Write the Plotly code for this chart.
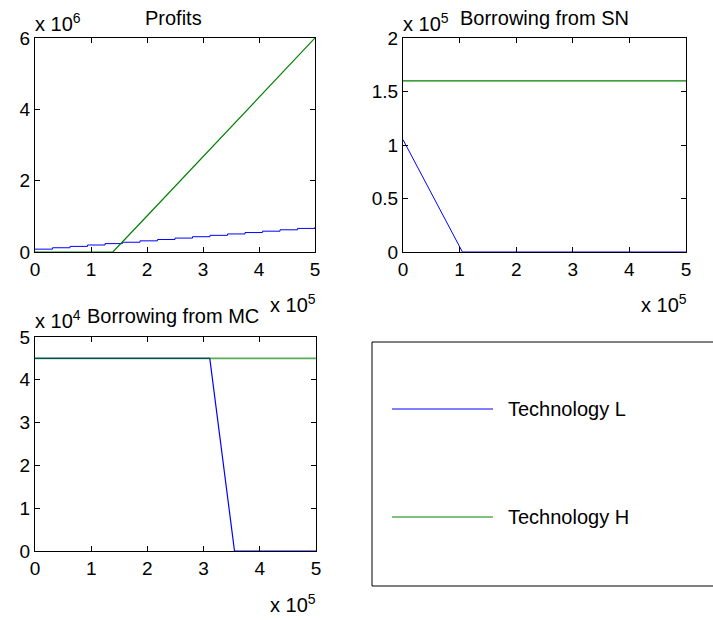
import plotly.graph_objects as go

# ---- data (actual values; x axis shown in units of 10^5) ----
x_prof_L = [0, 31250, 62500, 93750, 125000, 156250, 187500, 218750, 250000,
            281250, 312500, 343750, 375000, 406250, 437500, 468750, 500000]
profit_L = [80000, 118750, 157500, 196250, 235000, 273750, 312500, 351250, 390000,
            428750, 467500, 506250, 545000, 583750, 622500, 661250, 700000]
x_prof_H = [0, 139000, 200000, 300000, 400000, 500000]
profit_H = [0, 0, 1010000, 2670000, 4340000, 6000000]

x_sn_L = [0, 105000, 500000]
sn_L = [105000, 0, 0]
x_sn_H = [0, 500000]
sn_H = [160000, 160000]

x_mc_L = [0, 311000, 355000, 500000]
mc_L = [45000, 45000, 0, 0]
x_mc_H = [0, 500000]
mc_H = [45000, 45000]

series_names = ["Technology L", "Technology H"]
colors = ["#0000ff", "#008000"]

x_ticks = [0, 100000, 200000, 300000, 400000, 500000]
x_ticktext = ["0", "1", "2", "3", "4", "5"]
prof_ticks = [0, 2e6, 4e6, 6e6]
prof_text = ["0", "2", "4", "6"]
sn_ticks = [0, 50000, 100000, 150000, 200000]
sn_text = ["0", "0.5", "1", "1.5", "2"]
mc_ticks = [0, 10000, 20000, 30000, 40000, 50000]
mc_text = ["0", "1", "2", "3", "4", "5"]

W, H = 713, 620
FONT = "Liberation Sans, Arial, Helvetica, sans-serif"
FS_TICK = 19
FS_TEXT = 20

def px(x):
    return x / W

def py(y):
    return 1 - y / H

fig = go.Figure()

# panel 1: profits
fig.add_trace(go.Scatter(x=x_prof_L, y=profit_L, mode="lines", line=dict(color=colors[0], width=1, shape="hv"), xaxis="x", yaxis="y", showlegend=False))
fig.add_trace(go.Scatter(x=x_prof_H, y=profit_H, mode="lines", line=dict(color=colors[1], width=1.2), xaxis="x", yaxis="y", showlegend=False))
# panel 2: SN
fig.add_trace(go.Scatter(x=x_sn_H, y=sn_H, mode="lines", line=dict(color=colors[1], width=1.2), xaxis="x2", yaxis="y2", showlegend=False))
fig.add_trace(go.Scatter(x=x_sn_L, y=sn_L, mode="lines", line=dict(color=colors[0], width=1), xaxis="x2", yaxis="y2", showlegend=False))
# panel 3: MC
fig.add_trace(go.Scatter(x=x_mc_L, y=mc_L, mode="lines", line=dict(color=colors[0], width=1.2), xaxis="x3", yaxis="y3", showlegend=False))
fig.add_trace(go.Scatter(x=x_mc_H, y=mc_H, mode="lines", line=dict(color=colors[1], width=1.6), opacity=0.65, xaxis="x3", yaxis="y3", showlegend=False))

axis_common = dict(showline=True, linecolor="black", linewidth=1, mirror="ticks",
                   ticks="inside", ticklen=5, tickcolor="black", showgrid=False, zeroline=False,
                   automargin=False,
                   tickfont=dict(family=FONT, size=FS_TICK, color="black"))

d1x = [px(35), px(315)]
d2x = [px(403), px(686)]
d3x = [px(35), px(316)]
dtop = [py(252), py(38)]
dbot = [py(551), py(337)]

fig.update_layout(
    template="none",
    width=W, height=H, margin=dict(l=0, r=0, t=0, b=0, pad=0), autosize=False,
    paper_bgcolor="white", plot_bgcolor="white", showlegend=False,
    xaxis=dict(domain=d1x, anchor="y", range=[0, 500000], tickvals=x_ticks, ticktext=x_ticktext, **axis_common),
    yaxis=dict(domain=dtop, anchor="x", range=[0, 6e6], tickvals=prof_ticks, ticktext=prof_text, **axis_common),
    xaxis2=dict(domain=d2x, anchor="y2", range=[0, 500000], tickvals=x_ticks, ticktext=x_ticktext, **axis_common),
    yaxis2=dict(domain=dtop, anchor="x2", range=[0, 200000], tickvals=sn_ticks, ticktext=sn_text, **axis_common),
    xaxis3=dict(domain=d3x, anchor="y3", range=[0, 500000], tickvals=x_ticks, ticktext=x_ticktext, **axis_common),
    yaxis3=dict(domain=dbot, anchor="x3", range=[0, 50000], tickvals=mc_ticks, ticktext=mc_text, **axis_common),
)

tf = dict(family=FONT, size=FS_TEXT, color="black")
ann = []
def add_text(x, y, text, xanchor="center"):
    ann.append(dict(x=px(x), y=py(y), xref="paper", yref="paper", text=text, showarrow=False,
                    xanchor=xanchor, yanchor="middle", font=tf))

exp = lambda n: "x 10<sup>%d</sup>" % n
add_text(173, 18, "Profits")
add_text(544, 18, "Borrowing from SN")
add_text(173, 316, "Borrowing from MC")
add_text(33, 22, exp(6), "left")
add_text(401, 22, exp(5), "left")
add_text(33, 319, exp(4), "left")
add_text(318, 304, exp(5), "right")
add_text(689, 304, exp(5), "right")
add_text(318, 603, exp(5), "right")
add_text(506, 409, series_names[0], "left")
add_text(506, 517, series_names[1], "left")
fig.update_layout(annotations=ann)

# legend box (right side runs off the page, as in the reference)
box_line = dict(color="black", width=1)
shapes = [
    dict(type="line", xref="paper", yref="paper", x0=px(372), x1=px(713), y0=py(342), y1=py(342), line=box_line),
    dict(type="line", xref="paper", yref="paper", x0=px(372), x1=px(713), y0=py(586), y1=py(586), line=box_line),
    dict(type="line", xref="paper", yref="paper", x0=px(372), x1=px(372), y0=py(586), y1=py(342), line=box_line),
    dict(type="line", xref="paper", yref="paper", x0=px(392), x1=px(493), y0=py(409), y1=py(409),
         line=dict(color=colors[0], width=1)),
    dict(type="line", xref="paper", yref="paper", x0=px(392), x1=px(493), y0=py(517), y1=py(517),
         line=dict(color=colors[1], width=1)),
]
fig.update_layout(shapes=shapes)

fig.write_html("out.html", config={"displayModeBar": False},
               post_script="document.body.style.margin='0px';")
